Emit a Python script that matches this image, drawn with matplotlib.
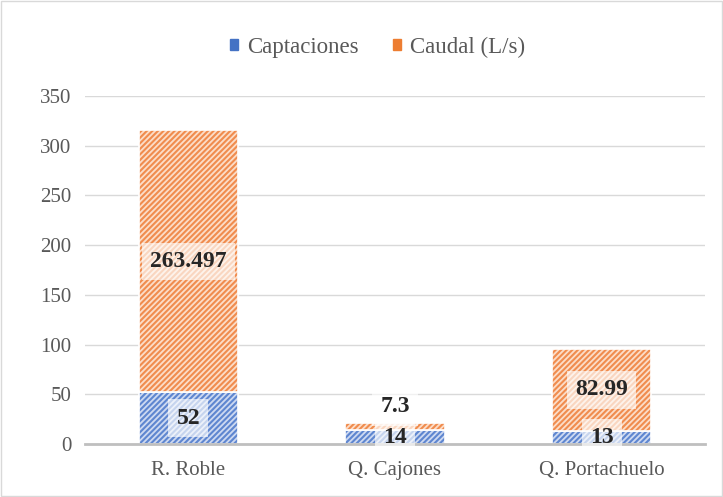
import numpy as np
import matplotlib.pyplot as plt
from matplotlib.patches import Rectangle

# Datos del gráfico
sitios = ["R. Roble", "Q. Cajones", "Q. Portachuelo"]
captaciones = [52, 14, 13]
caudal = [263.497, 7.3, 82.99]
etiquetas_captaciones = ["52", "14", "13"]
etiquetas_caudal = ["263.497", "7.3", "82.99"]

azul = "#4472C4"
naranja = "#ED7D31"

plt.rcParams['font.family'] = ['Liberation Serif', 'DejaVu Serif']
plt.rcParams['hatch.linewidth'] = 1.5

fig = plt.figure(figsize=(7.23, 4.97), dpi=100)
ax = fig.add_axes([0.1176, 0.1066, 0.8574, 0.7002])

x = np.arange(len(sitios))
ancho = 0.48

b1 = ax.bar(x, captaciones, ancho, color="#CDD9F1", edgecolor="white", linewidth=1.2,
            hatch="//////", label="Captaciones", zorder=2)
for b in b1:
    b._hatch_color = (0x5E/255, 0x86/255, 0xD0/255, 1.0)
b2 = ax.bar(x, caudal, ancho, bottom=captaciones, color="#FCDDC8", edgecolor="white",
            linewidth=1.2, hatch="//////", label="Caudal (L/s)", zorder=2)
for b in b2:
    b._hatch_color = (0xF0/255, 0x8C/255, 0x4E/255, 1.0)

caja = dict(boxstyle="square,pad=0.35", facecolor="white", alpha=0.65, edgecolor="none")
for i in range(len(sitios)):
    ax.text(x[i], captaciones[i] / 2, etiquetas_captaciones[i], ha="center", va="center",
            fontsize=17, fontweight="bold", color="#262626", bbox=caja, zorder=4)
    y = captaciones[i] + caudal[i] / 2
    if caudal[i] < 15:
        y = captaciones[i] + caudal[i] + 16
    ax.text(x[i], y, etiquetas_caudal[i], ha="center", va="center",
            fontsize=17, fontweight="bold", color="#262626", bbox=caja, zorder=4)

ax.set_ylim(0, 350)
ax.set_yticks(np.arange(0, 351, 50))
ax.set_xlim(-0.5, len(sitios) - 0.5)
ax.set_xticks(x)
ax.set_xticklabels(sitios)
ax.tick_params(axis="both", length=0, labelsize=15, colors="#595959")
ax.tick_params(axis="x", pad=12)
ax.tick_params(axis="y", pad=10)
ax.grid(axis="y", color="#D9D9D9", linewidth=1, zorder=0)
ax.set_axisbelow(True)
for lado in ["top", "right", "left"]:
    ax.spines[lado].set_visible(False)
ax.spines["bottom"].set_color("#BFBFBF")
ax.spines["bottom"].set_linewidth(2)

handles = [Rectangle((0, 0), 1, 1, color=azul), Rectangle((0, 0), 1, 1, color=naranja)]
fig.legend(handles, ["Captaciones", "Caudal (L/s)"], loc="center", bbox_to_anchor=(0.522, 0.905),
           ncol=2, frameon=False, fontsize=16.5, handlelength=0.35, handleheight=0.35,
           columnspacing=1.5, handletextpad=0.4, labelcolor="#595959")

fig.patches.append(Rectangle((0.002, 0.002), 0.996, 0.996, transform=fig.transFigure,
                             fill=False, edgecolor="#D9D9D9", linewidth=1))

fig.savefig("out.png", dpi=100)
